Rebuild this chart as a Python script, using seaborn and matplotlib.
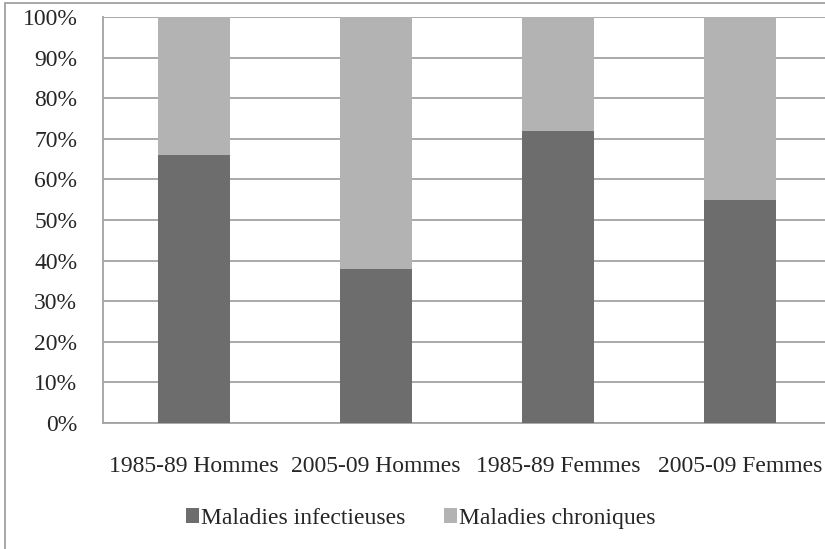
import numpy as np
import pandas as pd
import matplotlib
matplotlib.use("Agg")
import matplotlib.pyplot as plt
from matplotlib.patches import Patch, Rectangle
from matplotlib.ticker import FixedLocator, FuncFormatter
import seaborn as sns

# Data (percent of deaths)
categories = ["1985-89 Hommes", "2005-09 Hommes", "1985-89 Femmes", "2005-09 Femmes"]
infectieuses = [66, 38, 72, 55]
chroniques = [34, 62, 28, 45]
series_names = ["Maladies infectieuses", "Maladies chroniques"]

DARK = "#6d6d6d"
LIGHT = "#b3b3b3"
GRID = "#a3a3a3"

sns.set_style("white")
plt.rcParams["font.family"] = ["Liberation Serif", "DejaVu Serif"]

df = pd.DataFrame({
    "cat": categories,
    "inf": infectieuses,
    "total": np.array(infectieuses) + np.array(chroniques),
})

fig = plt.figure(figsize=(8.25, 5.49), dpi=100)
ax = fig.add_axes([103 / 825, 126 / 549, 728 / 825, 406 / 549])

# stacked bars: full height in light, infectious part in dark on top
sns.barplot(data=df, x="cat", y="total", color=LIGHT, width=0.4,
            saturation=1, linewidth=0, ax=ax, zorder=3)
sns.barplot(data=df, x="cat", y="inf", color=DARK, width=0.4,
            saturation=1, linewidth=0, ax=ax, zorder=4)

ax.set_ylim(0, 100)
ax.set_xlim(-0.5, len(categories) - 0.5)
ax.set_yticks(np.arange(0, 101, 10))
ax.yaxis.set_major_formatter(FuncFormatter(lambda v, _: f"{int(v)}%"))
ax.yaxis.grid(True, color=GRID, linewidth=1.3, zorder=0)
ax.set_axisbelow(True)

# ticks between categories, labels at centres
ax.xaxis.set_minor_locator(FixedLocator(np.arange(-0.5, len(categories), 1)))
ax.tick_params(axis="x", which="major", length=0, pad=24, labelsize=17)
ax.tick_params(axis="x", which="minor", length=8, width=1.3, color=GRID)
ax.tick_params(axis="y", which="major", length=7, width=1.3, color=GRID,
               labelsize=17, pad=11.5)
ax.set_xlabel("")
ax.set_ylabel("")

for side in ["top", "right"]:
    ax.spines[side].set_visible(False)
for side in ["left", "bottom"]:
    ax.spines[side].set_color(GRID)
    ax.spines[side].set_linewidth(1.3)

handles = [Patch(facecolor=DARK, edgecolor="none"),
           Patch(facecolor=LIGHT, edgecolor="none")]
fig.legend(handles, series_names, loc="center", bbox_to_anchor=(0.51, 0.056),
           ncol=2, frameon=False, fontsize=17, handlelength=0.55,
           handleheight=0.55, handletextpad=0.12, columnspacing=1.6)

# outer chart border
fig.patches.append(Rectangle((4.5 / 825, -0.05), 1.1, 0.05 + 546.5 / 549,
                             transform=fig.transFigure, fill=False,
                             edgecolor="#a0a0a0", linewidth=1.3))

fig.savefig("out.png", dpi=100)
